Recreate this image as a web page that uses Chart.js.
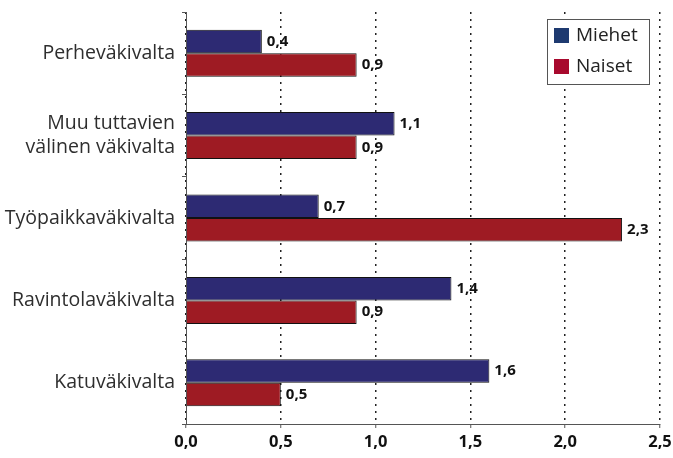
<!DOCTYPE html>
<html>
<head>
<meta charset="utf-8">
<script src="https://cdn.jsdelivr.net/npm/chart.js@4.4.1/dist/chart.umd.min.js"></script>
<style>
html,body{margin:0;padding:0;background:#fff;}
#wrap{width:673px;height:458px;position:relative;}
</style>
</head>
<body>
<div id="wrap"><canvas id="c" width="673" height="458"></canvas></div>
<script>
const categories = ['Perheväkivalta', ['Muu tuttavien', 'välinen väkivalta'], 'Työpaikkaväkivalta', 'Ravintolaväkivalta', 'Katuväkivalta'];
const seriesNames = ['Miehet', 'Naiset'];
const miehet = [0.4, 1.1, 0.7, 1.4, 1.6];
const naiset = [0.9, 0.9, 2.3, 0.9, 0.5];
const xTicks = [0, 0.5, 1.0, 1.5, 2.0, 2.5];

const barColors = ['#2d2a73', '#9e1b23'];
const legendColors = ['#1e3a70', '#a8092e'];
const fmt = v => Number(v).toFixed(1).replace('.', ',');

const valueLabels = {
  id: 'valueLabels',
  afterDatasetsDraw(chart) {
    const ctx = chart.ctx;
    ctx.save();
    ctx.font = 'bold 15px "Open Sans"';
    ctx.fillStyle = '#111';
    ctx.textAlign = 'left';
    ctx.textBaseline = 'middle';
    chart.data.datasets.forEach((ds, di) => {
      const meta = chart.getDatasetMeta(di);
      meta.data.forEach((bar, i) => {
        ctx.fillText(fmt(ds.data[i]), bar.x + 5, bar.y);
      });
    });
    ctx.restore();
  }
};

const boxLegend = {
  id: 'boxLegend',
  afterDraw(chart) {
    const ctx = chart.ctx;
    const x = 547, y = 19, w = 102, h = 65;
    ctx.save();
    ctx.fillStyle = '#fff';
    ctx.fillRect(x, y, w, h);
    ctx.strokeStyle = '#555';
    ctx.lineWidth = 1;
    ctx.strokeRect(x + 0.5, y + 0.5, w, h);
    ctx.font = '19px "Open Sans"';
    ctx.textBaseline = 'middle';
    ctx.textAlign = 'left';
    chart.data.datasets.forEach((ds, i) => {
      const cy = y + 16 + i * 31;
      ctx.fillStyle = legendColors[i];
      ctx.fillRect(x + 7, cy - 7, 15, 15);
      ctx.fillStyle = '#222';
      ctx.fillText(ds.label, x + 29, cy + 1);
    });
    ctx.restore();
  }
};

new Chart(document.getElementById('c'), {
  type: 'bar',
  data: {
    labels: categories,
    datasets: [
      { label: seriesNames[0], data: miehet, backgroundColor: barColors[0], borderColor: '#111', borderWidth: 1, borderSkipped: 'left' },
      { label: seriesNames[1], data: naiset, backgroundColor: barColors[1], borderColor: '#111', borderWidth: 1, borderSkipped: 'left' }
    ]
  },
  options: {
    indexAxis: 'y',
    responsive: false,
    animation: false,
    devicePixelRatio: 1,
    layout: { padding: { top: 12, right: 13, left: 0, bottom: 0 } },
    datasets: { bar: { categoryPercentage: 0.57, barPercentage: 1.0 } },
    plugins: { legend: { display: false }, tooltip: { enabled: false } },
    scales: {
      x: {
        min: 0, max: 2.5,
        afterBuildTicks(scale) { scale.ticks = xTicks.map(v => ({ value: v })); },
        afterFit(scale) { scale.height = 34; scale.paddingLeft = 0; scale.paddingRight = 0; },
        ticks: {
          callback: v => fmt(v),
          font: { family: 'Open Sans', size: 16.5, weight: 'bold' },
          color: '#111',
          padding: 4,
          maxRotation: 0
        },
        grid: { color: '#222', lineWidth: 1.5, tickLength: 4, tickColor: '#555', tickWidth: 1, tickBorderDash: [] },
        border: { display: true, color: '#555', width: 1, dash: [2, 5] }
      },
      y: {
        afterFit(scale) { scale.width = 186; scale.paddingTop = 0; scale.paddingBottom = 0; },
        ticks: {
          font: { family: 'Open Sans', size: 19.5, lineHeight: 1.23 },
          color: '#2e2e2e',
          padding: 7
        },
        grid: { offset: true, drawOnChartArea: false, tickLength: 4, tickColor: '#555' },
        border: { display: true, color: '#555', width: 1 }
      }
    }
  },
  plugins: [valueLabels, boxLegend]
});
</script>
</body>
</html>
